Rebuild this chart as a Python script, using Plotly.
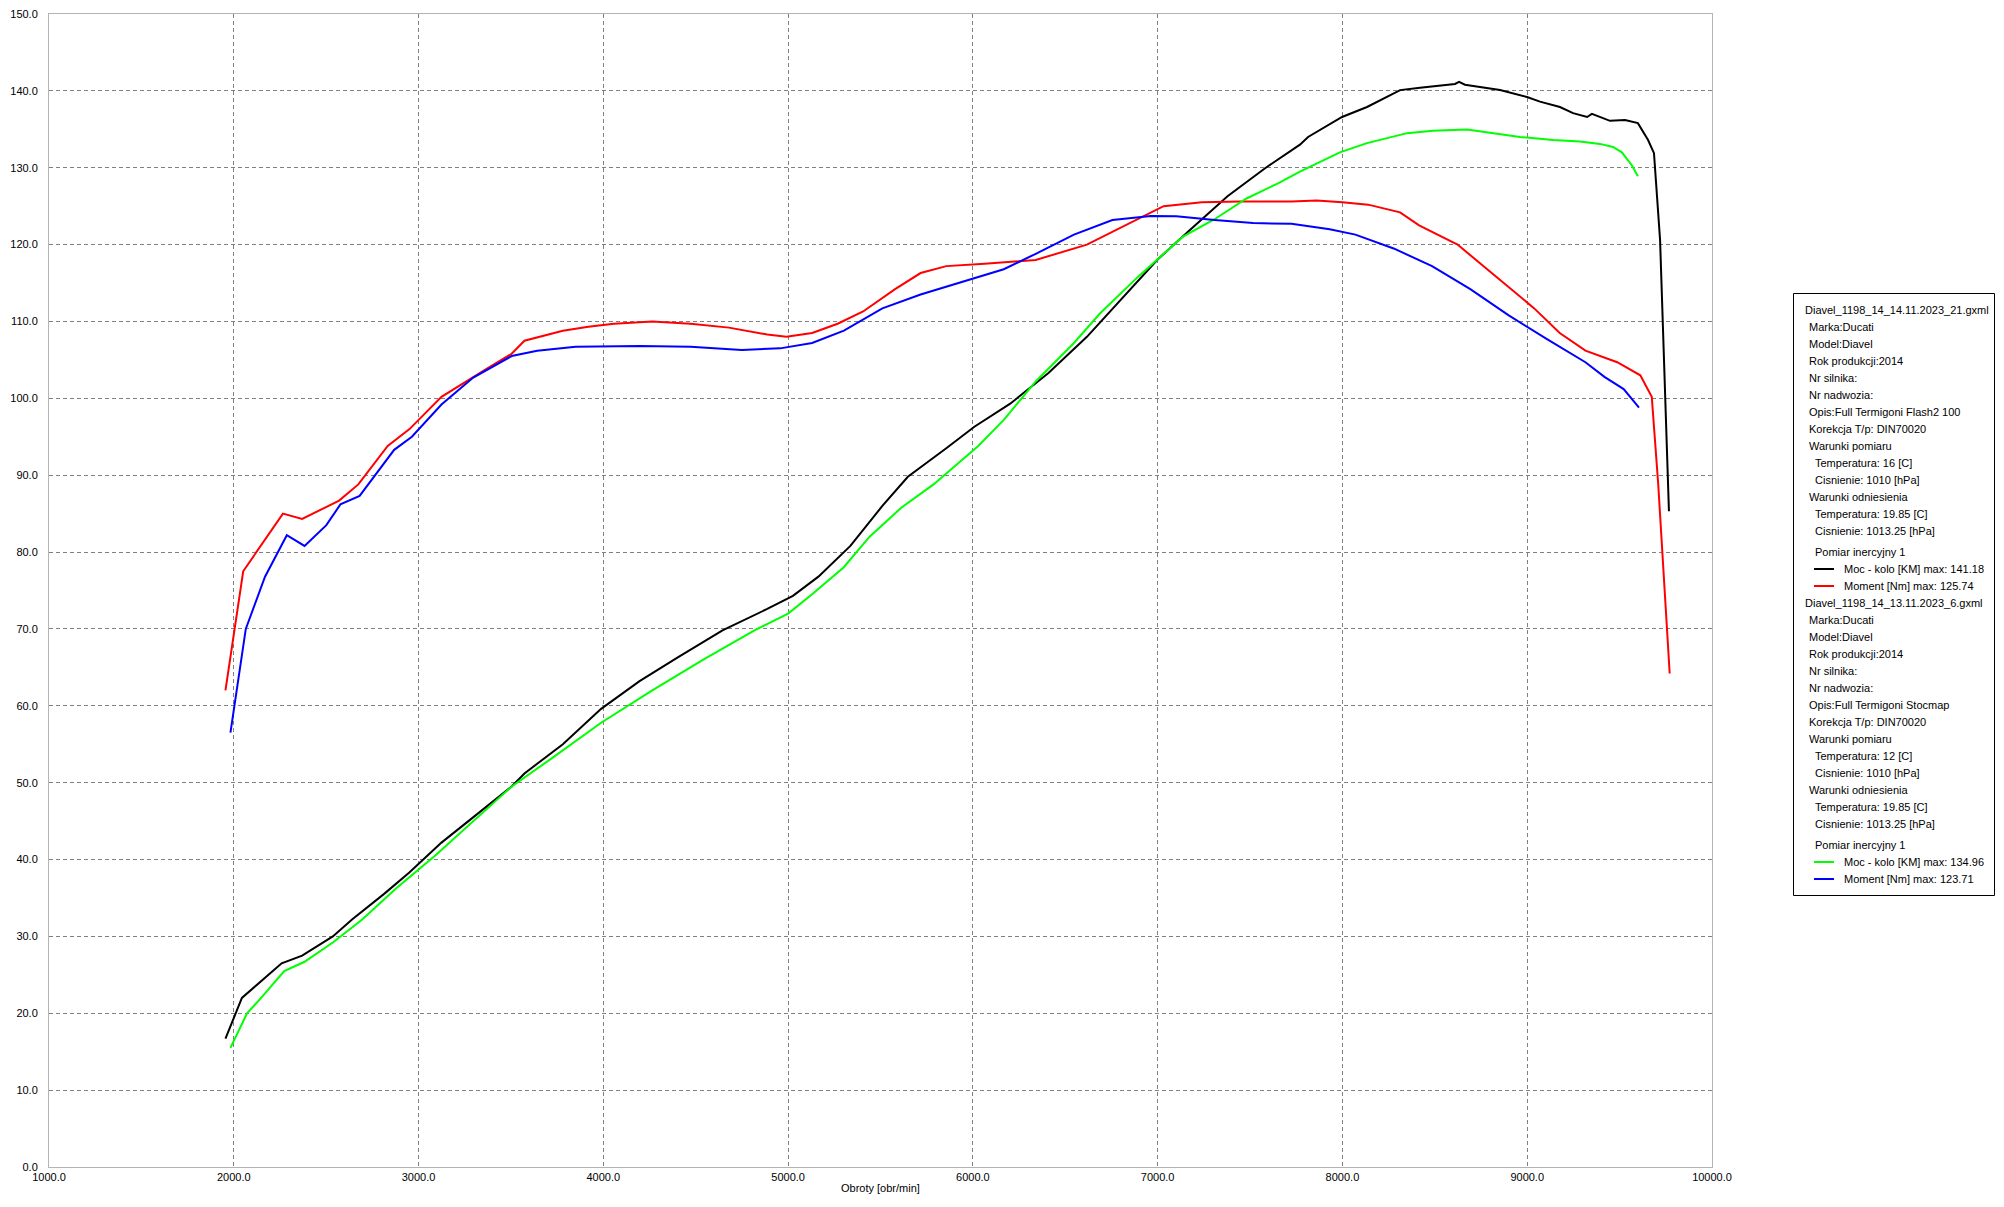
import plotly.graph_objects as go

# ---------------- data ----------------
rpm_moc1 = [1955, 2044, 2259, 2370, 2536, 2640, 2812, 2950, 3124, 3296, 3504, 3573, 3781, 3988,
            4196, 4403, 4645, 4887, 5026, 5164, 5337, 5510, 5648, 5856, 6008, 6202, 6409, 6617,
            6824, 6997, 7170, 7378, 7585, 7770, 7814, 7949, 7998, 8133, 8312, 8420, 8566, 8609,
            8631, 8663, 8853, 8999, 9069, 9177, 9248, 9324, 9350, 9394, 9448, 9529, 9599, 9654,
            9686, 9719, 9767]
moc1 = [16.7, 22.0, 26.5, 27.5, 30.0, 32.2, 35.5, 38.3, 42.2, 45.5, 49.5, 51.2, 55.0, 59.6,
        63.2, 66.3, 69.8, 72.6, 74.3, 76.8, 80.8, 86.0, 89.8, 93.5, 96.3, 99.3, 103.3, 108.0,
        113.5, 118.0, 121.8, 126.3, 130.0, 133.0, 134.0, 135.9, 136.6, 137.9, 140.1, 140.4, 140.8, 140.9,
        141.18, 140.8, 140.1, 139.2, 138.6, 137.9, 137.1, 136.6, 137.0, 136.6, 136.1, 136.2, 135.8, 133.6,
        131.9, 120.6, 85.3]

rpm_mom1 = [1955, 2051, 2266, 2370, 2570, 2674, 2833, 2951, 3124, 3228, 3366, 3504, 3573, 3781,
            3919, 4057, 4265, 4472, 4680, 4887, 4991, 5130, 5268, 5406, 5579, 5717, 5856, 6063,
            6340, 6617, 6824, 7032, 7239, 7447, 7724, 7860, 8000, 8139, 8312, 8415, 8623, 8761,
            8934, 9038, 9176, 9315, 9487, 9612, 9674, 9709, 9771]
mom1 = [62.0, 77.5, 85.0, 84.3, 86.7, 88.8, 93.8, 96.0, 100.2, 101.7, 103.8, 105.8, 107.5, 108.8,
        109.3, 109.7, 110.0, 109.7, 109.2, 108.3, 108.0, 108.5, 109.7, 111.3, 114.2, 116.3, 117.2, 117.5,
        118.0, 120.0, 122.5, 125.0, 125.5, 125.6, 125.6, 125.74, 125.5, 125.2, 124.2, 122.5, 120.0, 117.2,
        113.8, 111.7, 108.5, 106.2, 104.7, 103.0, 100.2, 88.8, 64.2]

rpm_moc2 = [1982, 2072, 2155, 2273, 2383, 2536, 2695, 2881, 3089, 3296, 3504, 3711, 3988, 4265,
            4541, 4818, 5000, 5130, 5300, 5441, 5614, 5787, 6029, 6167, 6340, 6547, 6686, 6893,
            7032, 7135, 7308, 7481, 7654, 7770, 7986, 8133, 8350, 8490, 8674, 8782, 8961, 9140,
            9285, 9394, 9464, 9512, 9567, 9599]
moc2 = [15.5, 20.0, 22.2, 25.5, 26.7, 29.2, 32.2, 36.3, 40.5, 45.0, 49.5, 53.0, 57.8, 62.0,
        66.0, 69.8, 72.0, 74.5, 78.0, 82.0, 85.8, 88.8, 93.8, 97.2, 102.2, 107.2, 111.0, 115.8,
        118.8, 121.0, 123.3, 126.0, 128.0, 129.5, 132.0, 133.2, 134.5, 134.8, 134.96, 134.6, 134.0, 133.6,
        133.4, 133.1, 132.7, 132.0, 130.3, 128.9]

rpm_mom2 = [1982, 2065, 2169, 2287, 2383, 2501, 2577, 2681, 2868, 2964, 3124, 3296, 3504, 3642,
            3850, 4057, 4196, 4472, 4749, 4957, 5130, 5302, 5510, 5717, 5994, 6167, 6340, 6547,
            6755, 6963, 7101, 7308, 7516, 7724, 7931, 8070, 8277, 8485, 8692, 8900, 9107, 9315,
            9418, 9522, 9605]
mom2 = [56.5, 70.0, 76.8, 82.2, 80.8, 83.5, 86.2, 87.3, 93.3, 95.0, 99.2, 102.7, 105.5, 106.2,
        106.7, 106.8, 106.8, 106.7, 106.3, 106.5, 107.2, 108.8, 111.7, 113.5, 115.5, 116.8, 118.8, 121.3,
        123.2, 123.71, 123.7, 123.2, 122.8, 122.7, 122.0, 121.3, 119.5, 117.2, 114.2, 110.8, 107.7, 104.7,
        102.8, 101.2, 98.8]

x_ticks = [1000, 2000, 3000, 4000, 5000, 6000, 7000, 8000, 9000, 10000]
y_ticks = list(range(0, 151, 10))
x_title = "Obroty [obr/min]"

legend_blocks = [
    {
        "file": "Diavel_1198_14_14.11.2023_21.gxml",
        "info": ["Marka:Ducati", "Model:Diavel", "Rok produkcji:2014", "Nr silnika:", "Nr nadwozia:",
                 "Opis:Full Termigoni Flash2 100", "Korekcja T/p: DIN70020", "Warunki pomiaru"],
        "cond1": ["Temperatura: 16 [C]", "Cisnienie: 1010 [hPa]"],
        "ref": "Warunki odniesienia",
        "cond2": ["Temperatura: 19.85 [C]", "Cisnienie: 1013.25 [hPa]"],
        "meas": "Pomiar inercyjny 1",
        "series": [("Moc - kolo [KM] max: 141.18", "#000000"), ("Moment [Nm] max: 125.74", "#ff0000")],
    },
    {
        "file": "Diavel_1198_14_13.11.2023_6.gxml",
        "info": ["Marka:Ducati", "Model:Diavel", "Rok produkcji:2014", "Nr silnika:", "Nr nadwozia:",
                 "Opis:Full Termigoni Stocmap", "Korekcja T/p: DIN70020", "Warunki pomiaru"],
        "cond1": ["Temperatura: 12 [C]", "Cisnienie: 1010 [hPa]"],
        "ref": "Warunki odniesienia",
        "cond2": ["Temperatura: 19.85 [C]", "Cisnienie: 1013.25 [hPa]"],
        "meas": "Pomiar inercyjny 1",
        "series": [("Moc - kolo [KM] max: 134.96", "#00ff00"), ("Moment [Nm] max: 123.71", "#0000ff")],
    },
]

# ---------------- layout geometry ----------------
# page body has an 8px margin; the figure is sized to fit the window exactly
OFF = 8
W, H = 2004 - 2 * OFF, 1207 - 2 * OFF
PL, PR, PT, PB = 49, 1712, 14, 1167
FONT = "Liberation Sans, Arial, sans-serif"


def px(x):
    return (x - OFF) / W


def py(y):
    return 1 - (y - OFF) / H


fig = go.Figure()
series = [
    (rpm_moc1, moc1, "#000000"),
    (rpm_mom1, mom1, "#ff0000"),
    (rpm_moc2, moc2, "#00ff00"),
    (rpm_mom2, mom2, "#0000ff"),
]
for xs, ys, c in series:
    fig.add_trace(go.Scatter(x=xs, y=ys, mode="lines", line=dict(color=c, width=2),
                             showlegend=False, hoverinfo="skip"))

axis_common = dict(
    showgrid=True, gridcolor="#808080", gridwidth=1, griddash="4px,3px",
    showline=True, linecolor="#b4b4b4", linewidth=1, mirror=True,
    zeroline=False, ticks="", tickfont=dict(family=FONT, size=11, color="#000000"),
    tickformat=".1f", automargin=False, ticklabeloverflow="allow",
)
fig.update_xaxes(range=[1000, 10000], tickvals=x_ticks, domain=[px(PL), px(PR)],
                 ticklabelstandoff=0, **axis_common)
fig.update_yaxes(range=[0, 150], tickvals=y_ticks, domain=[py(PB), py(PT)],
                 ticklabelstandoff=8, **axis_common)

annotations = [dict(text=x_title, x=px((PL + PR) / 2), y=py(1188), xref="paper", yref="paper",
                    xanchor="center", yanchor="middle", showarrow=False,
                    font=dict(family=FONT, size=11, color="#000000"))]
shapes = [dict(type="rect", xref="paper", yref="paper", x0=px(1793.5), x1=px(1994.5),
               y0=py(895.5), y1=py(293.5), line=dict(color="#000000", width=1), fillcolor="white",
               layer="above")]


def add_text(t, x, y):
    annotations.append(dict(text=t, x=px(x), y=py(y), xref="paper", yref="paper",
                            xanchor="left", yanchor="middle", showarrow=False,
                            font=dict(family=FONT, size=11, color="#000000")))


X0, X1, X2 = 1803, 1807, 1813
y = 310
for blk in legend_blocks:
    add_text(blk["file"], X0, y)
    y += 17
    for t in blk["info"]:
        add_text(t, X1, y)
        y += 17
    for t in blk["cond1"]:
        add_text(t, X2, y)
        y += 17
    add_text(blk["ref"], X1, y)
    y += 17
    for t in blk["cond2"]:
        add_text(t, X2, y)
        y += 17
    y += 4
    add_text(blk["meas"], X2, y)
    y += 17
    for label, c in blk["series"]:
        shapes.append(dict(type="line", xref="paper", yref="paper", x0=px(1814), x1=px(1834),
                           y0=py(y), y1=py(y), line=dict(color=c, width=2)))
        add_text(label, 1842, y)
        y += 17

fig.update_layout(
    width=W, height=H, autosize=False,
    margin=dict(l=0, r=0, t=0, b=0, pad=0),
    paper_bgcolor="white", plot_bgcolor="white",
    annotations=annotations, shapes=shapes,
    showlegend=False,
)
fig.write_html("out.html")
